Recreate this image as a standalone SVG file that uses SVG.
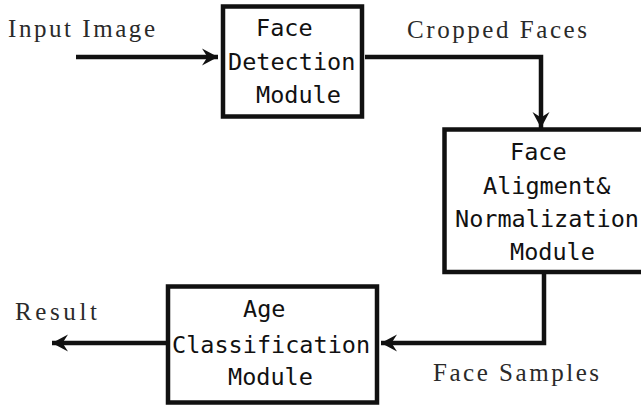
<svg xmlns="http://www.w3.org/2000/svg" width="641" height="406" viewBox="0 0 641 406">
  <style>
    .box { fill: #ffffff; stroke: #111111; stroke-width: 4.5; }
    .wire { fill: none; stroke: #111111; stroke-width: 4.5; stroke-linejoin: miter; }
    .lbl { font-family: "DejaVu Sans Mono", "Liberation Mono", monospace; font-size: 23.5px; fill: #111111; }
    .cap { font-family: "Liberation Serif", "DejaVu Serif", serif; font-size: 25px; fill: #2a2a2a; }
  </style>
  <defs>
    <marker id="dart" markerUnits="userSpaceOnUse" markerWidth="18" markerHeight="18" viewBox="-17 -9 18 18" refX="0" refY="0" orient="auto">
      <path d="M0,0 L-16,-8.5 L-10.5,0 L-16,8.5 Z" fill="#111111"/>
    </marker>
  </defs>

  <rect width="641" height="406" fill="#ffffff"/>

  <!-- connectors -->
  <g id="connectors">
    <path class="wire" d="M76,57 L218,57" marker-end="url(#dart)"/>
    <path class="wire" d="M365,57 L541,57 L541,128" marker-end="url(#dart)"/>
    <path class="wire" d="M544,272 L544,343 L381,343" marker-end="url(#dart)"/>
    <path class="wire" d="M166,343 L52,343" marker-end="url(#dart)"/>
  </g>

  <!-- edge captions -->
  <g id="captions">
    <text class="cap" x="8" y="37" textLength="147">Input Image</text>
    <text class="cap" x="407" y="38" textLength="180">Cropped Faces</text>
    <text class="cap" x="15" y="320" textLength="82">Result</text>
    <text class="cap" x="433" y="381" textLength="166">Face Samples</text>
  </g>

  <g id="face-detection">
    <rect class="box" x="223" y="6.5" width="139" height="110"/>
    <text class="lbl" x="256" y="36">Face</text>
    <text class="lbl" x="228" y="70">Detection</text>
    <text class="lbl" x="256" y="103">Module</text>
  </g>

  <g id="face-alignment">
    <rect class="box" x="444.5" y="129.5" width="210" height="142.5"/>
    <text class="lbl" x="510" y="160">Face</text>
    <text class="lbl" x="483" y="194">Aligment&amp;</text>
    <text class="lbl" x="455" y="227">Normalization</text>
    <text class="lbl" x="510" y="260">Module</text>
  </g>

  <g id="age-classification">
    <rect class="box" x="168" y="286.5" width="209" height="116"/>
    <text class="lbl" x="243" y="317">Age</text>
    <text class="lbl" x="172" y="353">Classification</text>
    <text class="lbl" x="228" y="385">Module</text>
  </g>
</svg>
